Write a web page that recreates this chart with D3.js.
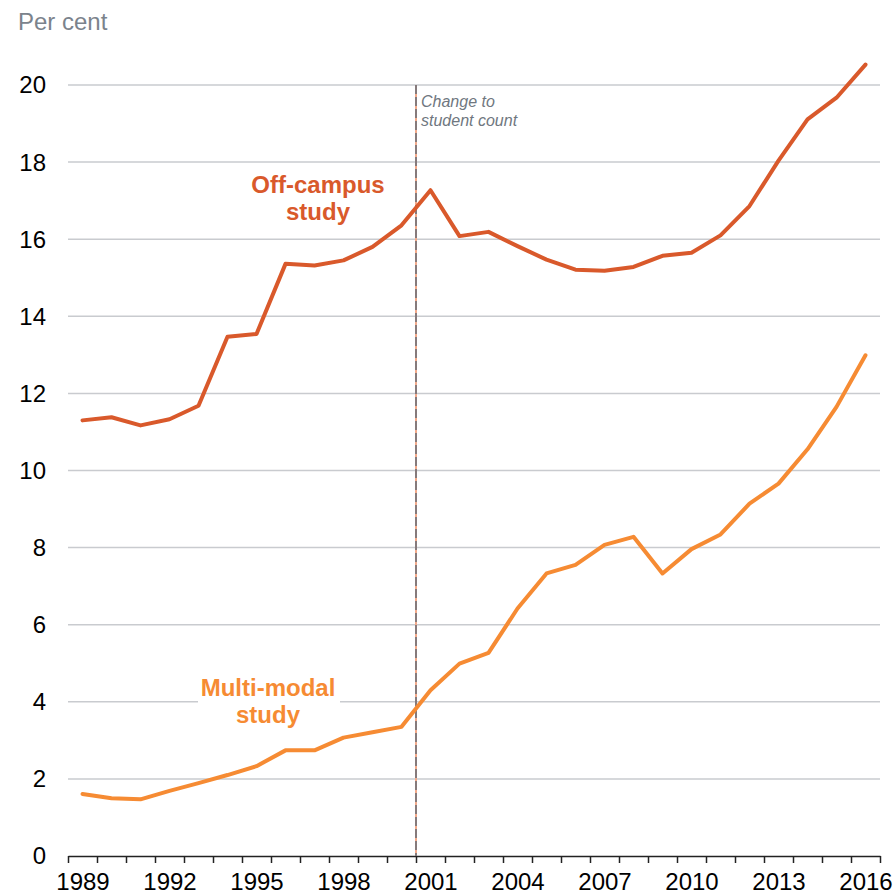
<!DOCTYPE html>
<html>
<head>
<meta charset="utf-8">
<script src="https://cdn.jsdelivr.net/npm/d3@7"></script>
<style>
  body { margin: 0; background: #fff; }
  svg { display: block; font-family: "Liberation Sans", Arial, sans-serif; }
</style>
</head>
<body>
<svg id="chart" width="896" height="896"></svg>
<script>
// Data
const years = d3.range(1989, 2017);
const offCampus = [11.30, 11.38, 11.17, 11.33, 11.68, 13.47, 13.54, 15.36, 15.32, 15.45,
                   15.80, 16.36, 17.27, 16.08, 16.19, 15.82, 15.47, 15.21, 15.18, 15.28,
                   15.57, 15.65, 16.10, 16.86, 18.04, 19.11, 19.67, 20.53];
const multiModal = [1.61, 1.50, 1.47, 1.69, 1.89, 2.10, 2.33, 2.74, 2.74, 3.07,
                    3.21, 3.35, 4.30, 4.99, 5.27, 6.42, 7.33, 7.55, 8.07, 8.28,
                    7.33, 7.96, 8.34, 9.14, 9.66, 10.55, 11.65, 12.99];
const yTicks = [0, 2, 4, 6, 8, 10, 12, 14, 16, 18, 20];
const xLabels = [1989, 1992, 1995, 1998, 2001, 2004, 2007, 2010, 2013, 2016];
const breakYear = 2000.5;

const svg = d3.select("#chart");

// year bands: each year centred in a 1-wide slot
const x = d3.scaleLinear().domain([1988.5, 2016.5]).range([68, 880]);
const y = d3.scaleLinear().domain([0, 20]).range([856, 85]);

// gridlines
svg.append("g").attr("class", "grid")
  .selectAll("line")
  .data(yTicks.filter(d => d > 0))
  .join("line")
  .attr("x1", x.range()[0]).attr("x2", x.range()[1])
  .attr("y1", d => y(d)).attr("y2", d => y(d))
  .attr("stroke", "#c9cbcf").attr("stroke-width", 1.5);

// y labels
svg.append("g").attr("class", "y-labels")
  .selectAll("text")
  .data(yTicks)
  .join("text")
  .attr("x", 46).attr("y", d => y(d))
  .attr("dy", "0.35em")
  .attr("text-anchor", "end")
  .attr("font-size", 24)
  .attr("fill", "#000")
  .text(d => d);

svg.append("text")
  .attr("x", 18).attr("y", 30)
  .attr("font-size", 24)
  .attr("fill", "#7b838c")
  .text("Per cent");

// x axis: ticks on band edges, labels every third year
const edges = d3.range(1988.5, 2017, 1);
const xAxis = svg.append("g")
  .attr("transform", `translate(0,${y(0)})`)
  .call(d3.axisBottom(x).tickValues(edges).tickFormat("").tickSize(7).tickSizeOuter(0));
xAxis.select(".domain").attr("stroke", "#222").attr("stroke-width", 1.5);
xAxis.selectAll(".tick line").attr("stroke", "#222").attr("stroke-width", 1.5);

const xLab = svg.append("g")
  .attr("transform", `translate(0,${y(0)})`)
  .call(d3.axisBottom(x).tickValues(xLabels).tickFormat(d3.format("d")).tickSize(0).tickPadding(20));
xLab.select(".domain").remove();
xLab.selectAll("text")
  .attr("font-size", 24)
  .attr("fill", "#000")
  .attr("font-family", "Liberation Sans, Arial, sans-serif")
  .attr("dy", "0.58em");

// break marker
svg.append("line")
  .attr("x1", x(breakYear)).attr("x2", x(breakYear))
  .attr("y1", y(20)).attr("y2", y(0))
  .attr("stroke", "#f2a98a").attr("stroke-width", 2);
svg.append("line")
  .attr("x1", x(breakYear)).attr("x2", x(breakYear))
  .attr("y1", y(20)).attr("y2", y(0))
  .attr("stroke", "#857a7b").attr("stroke-width", 2)
  .attr("stroke-dasharray", "9,3");

const note = svg.append("text")
  .attr("x", x(breakYear) + 5).attr("y", 107)
  .attr("font-size", 16)
  .attr("font-style", "italic")
  .attr("fill", "#6f7780");
note.append("tspan").attr("x", x(breakYear) + 5).text("Change to");
note.append("tspan").attr("x", x(breakYear) + 5).attr("dy", 18.5).text("student count");

// series
const series = [
  { name: "Off-campus", values: offCampus, color: "#d9592b" },
  { name: "Multi-modal", values: multiModal, color: "#f68b33" }
];

const line = d3.line()
  .x((d, i) => x(years[i]))
  .y(d => y(d));

svg.append("g").attr("class", "series")
  .selectAll("path")
  .data(series)
  .join("path")
  .attr("d", d => line(d.values))
  .attr("fill", "none")
  .attr("stroke", d => d.color)
  .attr("stroke-width", 4)
  .attr("stroke-linejoin", "round")
  .attr("stroke-linecap", "round");

// labels
svg.append("rect")
  .attr("x", 198).attr("y", 674).attr("width", 142).attr("height", 56)
  .attr("fill", "#fff");

function seriesLabel(lines, cx, baseY, color) {
  const t = svg.append("text")
    .attr("text-anchor", "middle")
    .attr("font-size", 24)
    .attr("font-weight", "bold")
    .attr("fill", color);
  lines.forEach((s, i) => {
    t.append("tspan").attr("x", cx).attr("y", baseY + i * 27).text(s);
  });
}
seriesLabel(["Off-campus", "study"], 318, 193, "#d9592b");
seriesLabel(["Multi-modal", "study"], 268, 696, "#f68b33");
</script>
</body>
</html>
